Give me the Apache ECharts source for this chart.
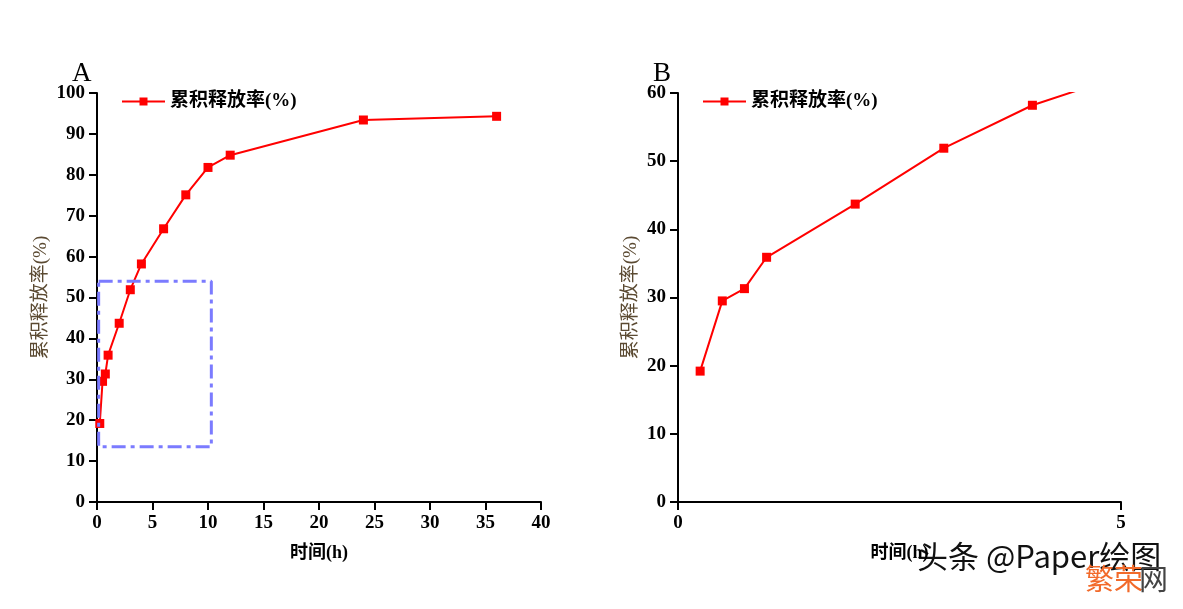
<!DOCTYPE html>
<html>
<head>
<meta charset="utf-8">
<script src="https://cdn.jsdelivr.net/npm/echarts@6/dist/echarts.min.js"></script>
<style>html,body{margin:0;padding:0;background:#fff;}#c{width:1183px;height:609px;}</style>
</head>
<body>
<div id="c"></div>
<script>
// Data
const timeH = [0.25, 0.5, 0.75, 1, 2, 3, 4, 6, 8, 10, 12, 24, 36];
const release = [19.2, 29.5, 31.3, 35.9, 43.7, 51.9, 58.2, 66.8, 75.1, 81.8, 84.8, 93.4, 94.3];
const rectX = [0.15, 10.3, 10.3, 0.15, 0.15];
const rectY = [54.0, 54.0, 13.5, 13.5, 54.0];
const seriesName = '累积释放率(%)';
const yNameText = '累积释放率(%)';
const xNameText = '时间(h)';
const panelTitles = ['A', 'B'];

const pairs = timeH.map((t, i) => [t, release[i]]);
const rectPairs = rectX.map((x, i) => [x, rectY[i]]);

const FONT = "'Liberation Serif', 'Noto Sans CJK SC', serif";
const lbl = { fontFamily: FONT, fontWeight: 'bold', fontSize: 19, color: '#000' };

function xAxis(gridIndex, max, interval) {
  return {
    type: 'value', gridIndex, min: 0, max, interval,
    name: xNameText, nameLocation: 'middle', nameGap: 42,
    nameTextStyle: { fontFamily: FONT, fontWeight: 'bold', fontSize: 18, color: '#000' },
    axisLine: { show: true, onZero: false, lineStyle: { color: '#000', width: 2 } },
    axisTick: { show: true, inside: false, length: 8, lineStyle: { color: '#000', width: 2 } },
    axisLabel: Object.assign({ margin: 12 }, lbl),
    splitLine: { show: false }
  };
}
function yAxis(gridIndex, max, gap) {
  return {
    type: 'value', gridIndex, min: 0, max, interval: 10,
    name: yNameText, nameLocation: 'middle', nameGap: gap, nameRotate: 90,
    nameTextStyle: { fontFamily: FONT, fontSize: 19, color: '#5b4a32' },
    axisLine: { show: true, onZero: false, lineStyle: { color: '#000', width: 2 } },
    axisTick: { show: true, inside: false, length: 8, lineStyle: { color: '#000', width: 2 } },
    axisLabel: Object.assign({ margin: 12 }, lbl),
    splitLine: { show: false }
  };
}
function legend(left) {
  return {
    data: [seriesName], left, top: 87, itemWidth: 43, itemHeight: 10, itemGap: 5,
    textStyle: { fontFamily: FONT, fontWeight: 'bold', fontSize: 19, color: '#000' },
    selectedMode: false
  };
}
function redLine(idx) {
  return {
    name: seriesName, type: 'line', xAxisIndex: idx, yAxisIndex: idx,
    data: pairs, symbol: 'rect', symbolSize: 9, clip: true,
    lineStyle: { color: '#ff0000', width: 2 }, itemStyle: { color: '#ff0000' },
    z: 3, animation: false
  };
}

const option = {
  backgroundColor: '#fff',
  animation: false,
  title: [
    { text: panelTitles[0], left: 67, top: 55, textStyle: { fontFamily: FONT, fontWeight: 'normal', fontSize: 27, color: '#000' } },
    { text: panelTitles[1], left: 648, top: 55, textStyle: { fontFamily: FONT, fontWeight: 'normal', fontSize: 27, color: '#000' } }
  ],
  legend: [legend(116), legend(697)],
  grid: [
    { left: 97, top: 93, width: 444, height: 409 },
    { left: 678, top: 93, width: 443, height: 409 }
  ],
  xAxis: [xAxis(0, 40, 5), xAxis(1, 5, 5)],
  yAxis: [yAxis(0, 100, 46), yAxis(1, 60, 37)],
  series: [
    redLine(0),
    redLine(1),
    {
      name: 'zoomBox', type: 'line', xAxisIndex: 0, yAxisIndex: 0,
      data: rectPairs, showSymbol: false, symbol: 'none', silent: true,
      lineStyle: { color: '#7b7bff', width: 3, type: [14, 5, 4, 5] },
      z: 4, animation: false
    }
  ],
  graphic: [
    { type: 'text', left: 916, top: 540, style: { text: '头条 @Paper绘图', font: "31px 'Noto Sans CJK SC'", fill: '#111', stroke: '#fff', lineWidth: 2 } },
    { type: 'text', left: 1085, top: 564, style: { text: '繁荣', font: "29px 'Noto Sans CJK SC'", fill: '#f26a2a' } },
    { type: 'text', left: 1139, top: 564, style: { text: '网', font: "29px 'Noto Sans CJK SC'", fill: '#444' } }
  ]
};
const chart = echarts.init(document.getElementById('c'), null, { renderer: 'canvas' });
chart.setOption(option);
</script>
</body>
</html>
